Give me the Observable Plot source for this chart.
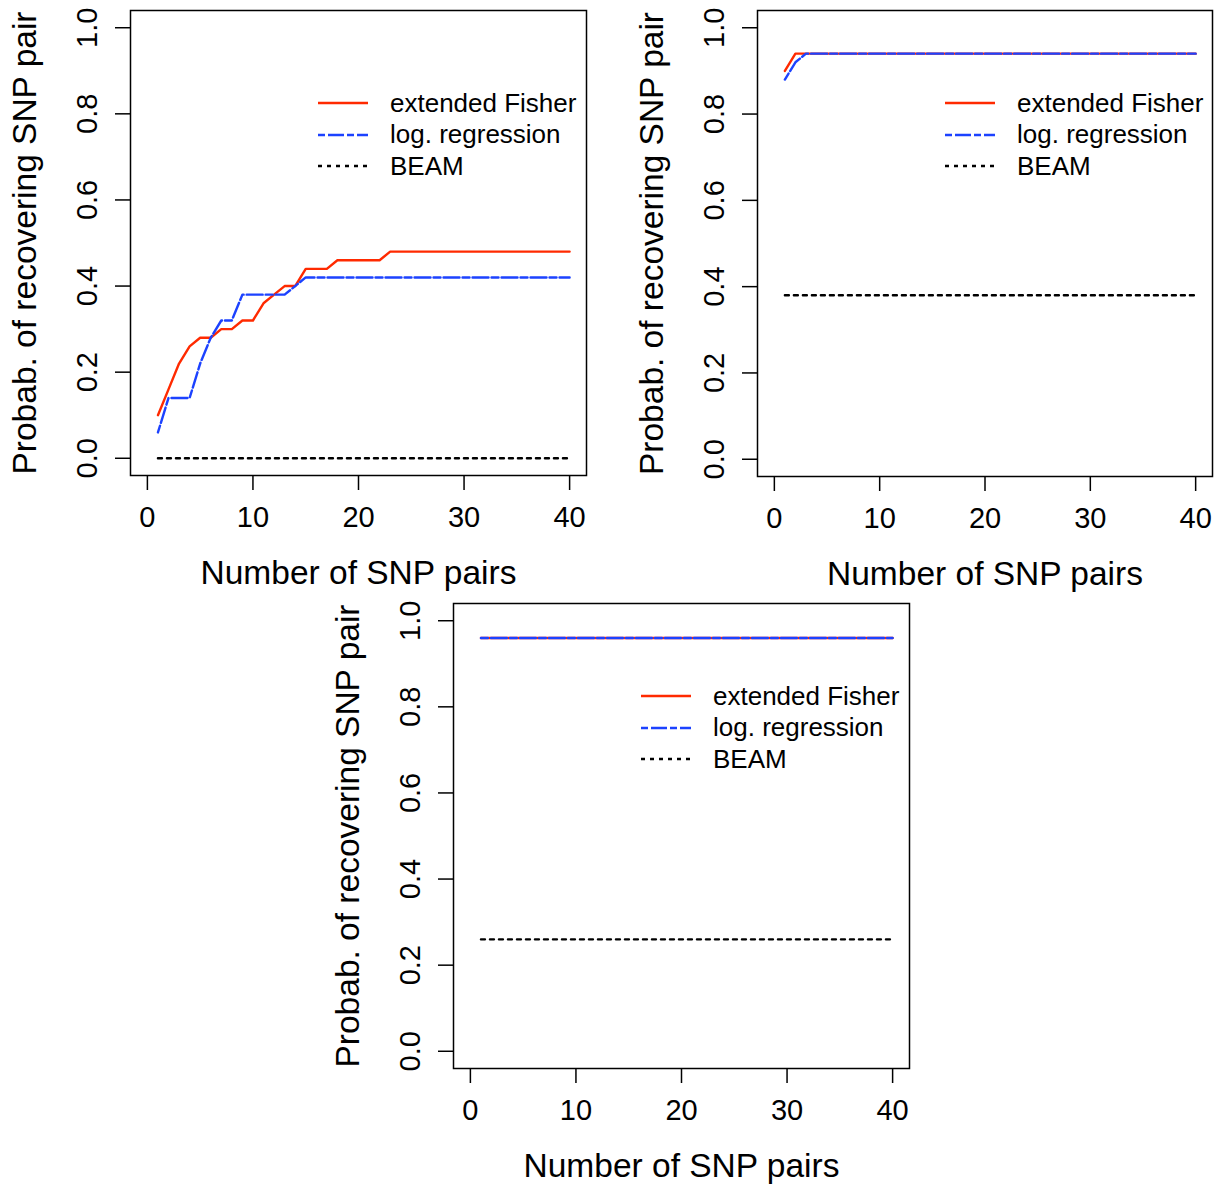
<!DOCTYPE html>
<html>
<head>
<meta charset="utf-8">
<script src="https://cdn.jsdelivr.net/npm/d3@7"></script>
<script src="https://cdn.jsdelivr.net/npm/@observablehq/plot@0.6"></script>
<style>
  body { margin: 0; background: #fff; }
  #fig { position: relative; width: 1215px; height: 1186px; font-family: "Liberation Sans", Arial, Helvetica, sans-serif; }
  .panel { position: absolute; }
  .legend { position: absolute; font-size: 26px; color: #000; }
  .legend .row { position: absolute; left: 0; height: 32px; display: flex; align-items: center; white-space: nowrap; }
  .legend svg { display: block; margin-right: 22px; }
</style>
</head>
<body>
<div id="fig"></div>
<script>
// Number of SNP pairs considered (1..40)
const pairs = d3.range(1, 41);

// Panel 1: probability of recovering the SNP pair
const fisher1 = [0.10, 0.16, 0.22, 0.26, 0.28, 0.28, 0.30, 0.30, 0.32, 0.32,
                 0.36, 0.38, 0.40, 0.40, 0.44, 0.44, 0.44, 0.46, 0.46, 0.46,
                 0.46, 0.46, 0.48, 0.48, 0.48, 0.48, 0.48, 0.48, 0.48, 0.48,
                 0.48, 0.48, 0.48, 0.48, 0.48, 0.48, 0.48, 0.48, 0.48, 0.48];
const logreg1 = [0.06, 0.14, 0.14, 0.14, 0.22, 0.28, 0.32, 0.32, 0.38, 0.38,
                 0.38, 0.38, 0.38, 0.40, 0.42, 0.42, 0.42, 0.42, 0.42, 0.42,
                 0.42, 0.42, 0.42, 0.42, 0.42, 0.42, 0.42, 0.42, 0.42, 0.42,
                 0.42, 0.42, 0.42, 0.42, 0.42, 0.42, 0.42, 0.42, 0.42, 0.42];
const beam1   = [0, 0, 0, 0, 0, 0, 0, 0, 0, 0, 0, 0, 0, 0, 0, 0, 0, 0, 0, 0,
                 0, 0, 0, 0, 0, 0, 0, 0, 0, 0, 0, 0, 0, 0, 0, 0, 0, 0, 0, 0];

// Panel 2
const fisher2 = [0.90, 0.94, 0.94, 0.94, 0.94, 0.94, 0.94, 0.94, 0.94, 0.94,
                 0.94, 0.94, 0.94, 0.94, 0.94, 0.94, 0.94, 0.94, 0.94, 0.94,
                 0.94, 0.94, 0.94, 0.94, 0.94, 0.94, 0.94, 0.94, 0.94, 0.94,
                 0.94, 0.94, 0.94, 0.94, 0.94, 0.94, 0.94, 0.94, 0.94, 0.94];
const logreg2 = [0.88, 0.92, 0.94, 0.94, 0.94, 0.94, 0.94, 0.94, 0.94, 0.94,
                 0.94, 0.94, 0.94, 0.94, 0.94, 0.94, 0.94, 0.94, 0.94, 0.94,
                 0.94, 0.94, 0.94, 0.94, 0.94, 0.94, 0.94, 0.94, 0.94, 0.94,
                 0.94, 0.94, 0.94, 0.94, 0.94, 0.94, 0.94, 0.94, 0.94, 0.94];
const beam2   = [0.38, 0.38, 0.38, 0.38, 0.38, 0.38, 0.38, 0.38, 0.38, 0.38,
                 0.38, 0.38, 0.38, 0.38, 0.38, 0.38, 0.38, 0.38, 0.38, 0.38,
                 0.38, 0.38, 0.38, 0.38, 0.38, 0.38, 0.38, 0.38, 0.38, 0.38,
                 0.38, 0.38, 0.38, 0.38, 0.38, 0.38, 0.38, 0.38, 0.38, 0.38];

// Panel 3
const fisher3 = [0.96, 0.96, 0.96, 0.96, 0.96, 0.96, 0.96, 0.96, 0.96, 0.96,
                 0.96, 0.96, 0.96, 0.96, 0.96, 0.96, 0.96, 0.96, 0.96, 0.96,
                 0.96, 0.96, 0.96, 0.96, 0.96, 0.96, 0.96, 0.96, 0.96, 0.96,
                 0.96, 0.96, 0.96, 0.96, 0.96, 0.96, 0.96, 0.96, 0.96, 0.96];
const logreg3 = [0.96, 0.96, 0.96, 0.96, 0.96, 0.96, 0.96, 0.96, 0.96, 0.96,
                 0.96, 0.96, 0.96, 0.96, 0.96, 0.96, 0.96, 0.96, 0.96, 0.96,
                 0.96, 0.96, 0.96, 0.96, 0.96, 0.96, 0.96, 0.96, 0.96, 0.96,
                 0.96, 0.96, 0.96, 0.96, 0.96, 0.96, 0.96, 0.96, 0.96, 0.96];
const beam3   = [0.26, 0.26, 0.26, 0.26, 0.26, 0.26, 0.26, 0.26, 0.26, 0.26,
                 0.26, 0.26, 0.26, 0.26, 0.26, 0.26, 0.26, 0.26, 0.26, 0.26,
                 0.26, 0.26, 0.26, 0.26, 0.26, 0.26, 0.26, 0.26, 0.26, 0.26,
                 0.26, 0.26, 0.26, 0.26, 0.26, 0.26, 0.26, 0.26, 0.26, 0.26];

const xTicks = [0, 10, 20, 30, 40];
const yTicks = [0, 0.2, 0.4, 0.6, 0.8, 1.0];
const methodNames = ["extended Fisher", "log. regression", "BEAM"];

const xLabel = "Number of SNP pairs";
const yLabel = "Probab. of recovering SNP pair";

const methodStyles = [
  {stroke: "#ff2a00", dash: null},
  {stroke: "#1c42ff", dash: "7,3,16,3"},
  {stroke: "#000000", dash: "4,5"}
];

const fontFamily = '"Liberation Sans", Arial, Helvetica, sans-serif';
const fig = document.getElementById("fig");

function drawPanel(seriesList, box) {
  const lineMarks = seriesList.map((values, k) =>
    Plot.line(pairs.map((n, i) => ({n, p: values[i]})), {
      x: "n", y: "p",
      stroke: methodStyles[k].stroke,
      strokeWidth: 2.4,
      strokeDasharray: methodStyles[k].dash
    })
  );
  const chart = Plot.plot({
    width: box.width,
    height: box.height,
    marginLeft: 130,
    marginRight: box.marginRight,
    marginTop: 10,
    marginBottom: box.marginBottom,
    x: {domain: [-1.6, 41.6]},
    y: {domain: [-0.04, 1.04]},
    style: {fontFamily, background: "white", color: "#000"},
    marks: [
      ...lineMarks,
      Plot.frame({stroke: "#000", strokeWidth: 1.5}),
      Plot.axisX({ticks: xTicks, tickSize: 15, tickPadding: 16, fontSize: 29, label: null, strokeWidth: 1.5}),
      Plot.axisY({ticks: yTicks, tickSize: 15, tickFormat: () => "", label: null, strokeWidth: 1.5}),
      Plot.text(yTicks, {
        y: d => d, text: d => d.toFixed(1),
        frameAnchor: "left", dx: -43, rotate: -90,
        textAnchor: "middle", lineAnchor: "middle", fontSize: 29
      }),
      Plot.text([xLabel], {
        text: d => d, frameAnchor: "bottom", dy: 98,
        textAnchor: "middle", lineAnchor: "middle", fontSize: 33.5
      }),
      Plot.text([yLabel], {
        text: d => d, frameAnchor: "left", dx: -105, rotate: -90,
        textAnchor: "middle", lineAnchor: "middle", fontSize: 33.5
      })
    ]
  });
  const wrap = document.createElement("div");
  wrap.className = "panel";
  wrap.style.left = box.left + "px";
  wrap.style.top = box.top + "px";
  wrap.appendChild(chart);
  fig.appendChild(wrap);

  // Legend in the upper right of the plotting region
  const legend = document.createElement("div");
  legend.className = "legend";
  legend.style.left = (box.left + 130 + 188) + "px";
  legend.style.top = (box.top + 10 + 93 - 16) + "px";
  methodNames.forEach((name, k) => {
    const row = document.createElement("div");
    row.className = "row";
    row.style.top = (k * 31.5) + "px";
    const s = methodStyles[k];
    row.innerHTML =
      `<svg width="50" height="4"><line x1="0" y1="2" x2="50" y2="2" stroke="${s.stroke}" stroke-width="2.4"` +
      (s.dash ? ` stroke-dasharray="${s.dash}"` : "") + `/></svg><span>${name}</span>`;
    legend.appendChild(row);
  });
  fig.appendChild(legend);
}

drawPanel([fisher1, logreg1, beam1], {left: 0, top: 0, width: 600, height: 600, marginRight: 14, marginBottom: 125});
drawPanel([fisher2, logreg2, beam2], {left: 627, top: 0, width: 588, height: 600, marginRight: 3, marginBottom: 124});
drawPanel([fisher3, logreg3, beam3], {left: 323, top: 593, width: 600, height: 593, marginRight: 14, marginBottom: 118});
</script>
</body>
</html>
